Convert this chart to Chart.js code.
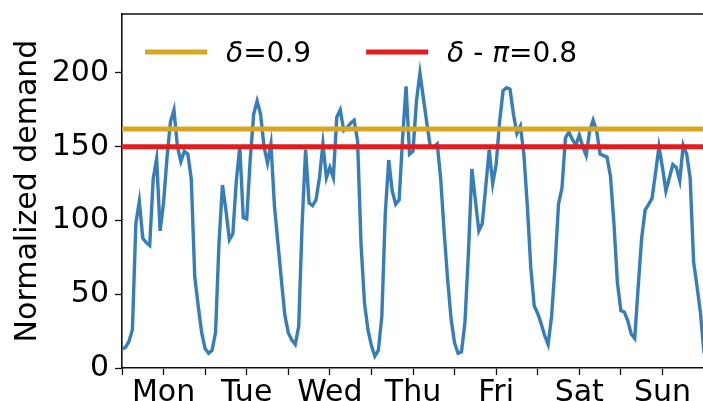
<!DOCTYPE html>
<html><head><meta charset="utf-8">
<script src="https://cdn.jsdelivr.net/npm/chart.js@4.4.1/dist/chart.umd.min.js"></script>
<style>html,body{margin:0;padding:0;overflow:hidden;background:#fff}</style>
</head><body>
<canvas id="c" width="712" height="401" style="display:block;width:712px;height:401px"></canvas>
<script>
// ---- data ----
const dayLabels = ['Mon','Tue','Wed','Thu','Fri','Sat','Sun'];
const hoursPerDay = 24;
const demandMon = [13,14,18,26,98,113,88,85,83,128,142,93,112,143,167,175,150,140,147,145,128,62,42,24];
const demandTue = [13,10,12,24,85,124,107,87,91,127,150,102,101,141,172,181,172,150,139,152,110,85,60,36];
const demandWed = [24,19,16,28,98,148,112,110,114,129,152,129,136,129,170,175,161,163,166,168,154,84,44,26];
const demandThu = [15,8,12,35,105,141,120,111,114,156,191,145,147,181,200,183,166,150,150,152,128,92,60,33];
const demandFri = [17,10,11,31,78,135,114,93,98,123,148,125,138,167,188,190,189,172,159,164,145,110,68,42];
const demandSat = [37,30,22,16,35,69,111,122,156,160,155,151,158,150,144,161,168,161,145,144,143,130,98,58];
const demandSun = [39,38,32,23,20,55,88,107,111,115,132,150,136,120,129,138,136,127,151,145,129,72,55,37,10];
const demand = [].concat(demandMon,demandTue,demandWed,demandThu,demandFri,demandSat,demandSun);
const thresholdLabels = ['δ=0.9','δ - π=0.8'];
const thresholdValues = [162,150];
const thresholdColors = ['#daa520','#e41a1c'];
const yTickValues = [0,50,100,150,200];
const yMax = 240;
const yTitle = 'Normalized demand';

const xMax = dayLabels.length*hoursPerDay;
const FONT = '"DejaVu Sans", "Liberation Sans", sans-serif';

const frame = {
  id:'frame',
  afterDraw(chart){
    const ctx=chart.ctx, a=chart.chartArea;
    ctx.save();
    ctx.strokeStyle='#111'; ctx.lineWidth=1.6;
    ctx.beginPath(); ctx.moveTo(a.left, a.top); ctx.lineTo(chart.width, a.top); ctx.stroke();
    ctx.restore();
  }
};
const mathLegend = {
  id:'mathLegend',
  afterDatasetsDraw(chart){
    const ctx=chart.ctx, a=chart.chartArea;
    let x=a.left+23; const y=a.top+38;
    ctx.save();
    thresholdLabels.forEach((lab,i)=>{
      ctx.strokeStyle=thresholdColors[i]; ctx.lineWidth=5; ctx.lineCap='butt';
      ctx.beginPath(); ctx.moveTo(x,y); ctx.lineTo(x+62,y); ctx.stroke();
      x+=62+19;
      ctx.fillStyle='#000'; ctx.textBaseline='alphabetic';
      for(const ch of lab){
        const greek=/[δπ]/.test(ch);
        ctx.font=(greek?'italic ':'')+'28px '+FONT;
        ctx.fillText(ch,x,y+10);
        x+=ctx.measureText(ch).width;
      }
      x+=55;
    });
    ctx.restore();
  }
};

const datasets = thresholdValues.map((v,i)=>({
  label: thresholdLabels[i],
  data: [{x:0,y:v},{x:xMax,y:v}],
  borderColor: thresholdColors[i],
  borderWidth: 5,
  pointRadius: 0,
  order: 0
}));
datasets.push({
  label: 'demand',
  data: demand.map((v,i)=>({x:i,y:v})),
  borderColor: '#377eb8',
  borderWidth: 3.4,
  pointRadius: 0,
  tension: 0,
  order: 1
});

new Chart(document.getElementById('c'),{
  type:'line',
  data:{datasets},
  plugins:[frame, mathLegend],
  options:{
    responsive:false, animation:false, devicePixelRatio:1,
    layout:{padding:{top:14,right:8,left:0,bottom:0}},
    plugins:{legend:{display:false},tooltip:{enabled:false}},
    scales:{
      x:{
        type:'linear', min:0, max:xMax,
        afterBuildTicks(s){
          const t=[]; for(let v=0; v<=xMax; v+=hoursPerDay/2) t.push({value:v});
          s.ticks=t;
        },
        afterFit(s){ s.height=33; s.paddingLeft=0; s.paddingRight=0; },
        ticks:{
          autoSkip:false, maxRotation:0, padding:0, color:'#000',
          font:{family:FONT,size:30},
          callback:(v)=> (v%hoursPerDay===hoursPerDay/2)? dayLabels[(v-hoursPerDay/2)/hoursPerDay] : ''
        },
        grid:{drawOnChartArea:false, tickLength:7, tickColor:'#111', tickWidth:1.3},
        border:{color:'#111', width:1.6}
      },
      y:{
        min:0, max:yMax,
        afterBuildTicks(s){ s.ticks=yTickValues.map(v=>({value:v})); },
        afterFit(s){ s.width=122; s.paddingTop=0; s.paddingBottom=0; },
        ticks:{padding:6, color:'#000', font:{family:FONT,size:30}},
        grid:{drawOnChartArea:false, tickLength:7, tickColor:'#111', tickWidth:1.3},
        border:{color:'#111', width:1.6},
        title:{display:true, text:yTitle, color:'#000', font:{family:FONT,size:30}, padding:{top:10,bottom:0}}
      }
    }
  }
});
</script>
</body></html>
